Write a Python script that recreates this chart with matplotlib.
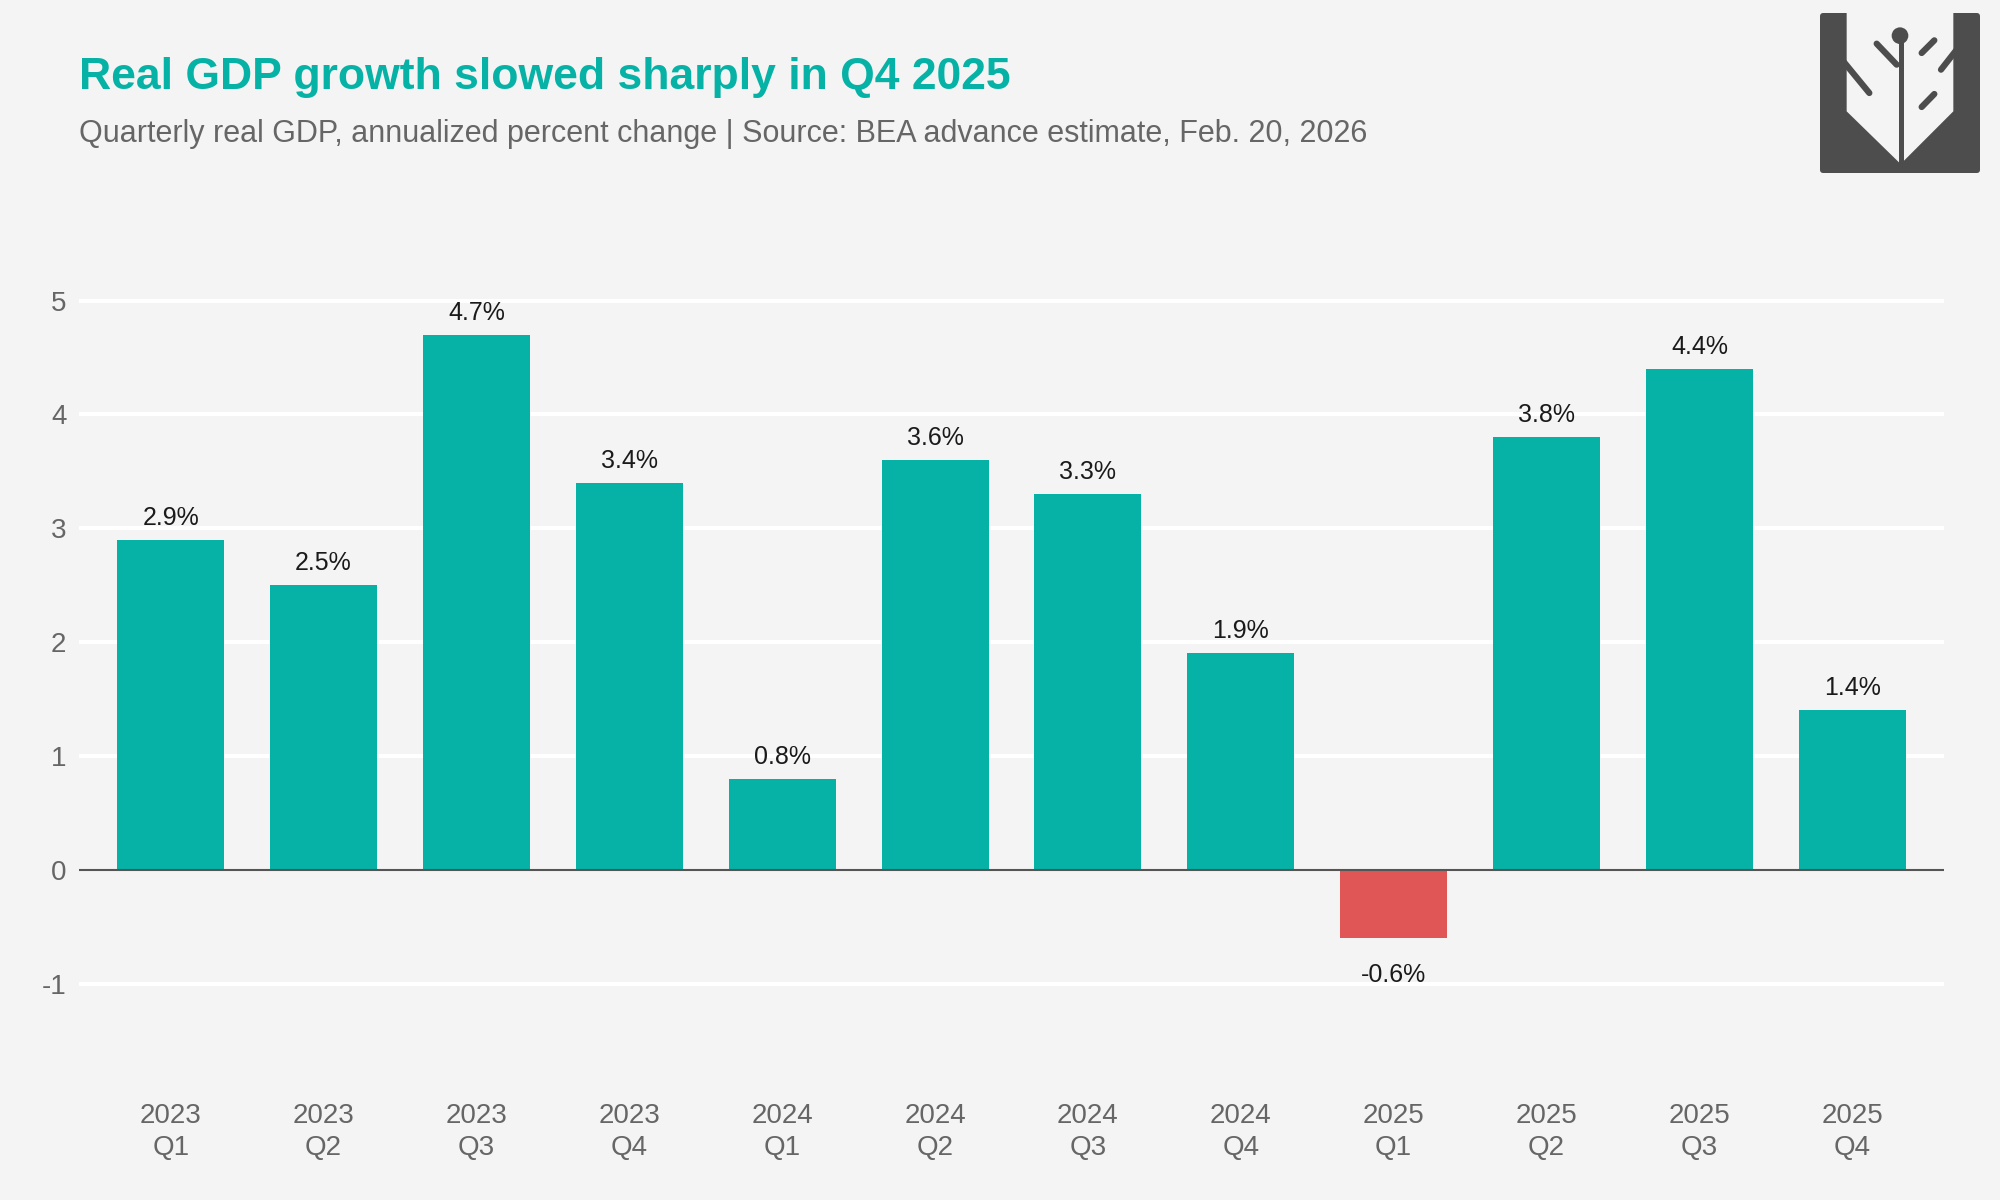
import numpy as np
import matplotlib.pyplot as plt
from matplotlib.patches import FancyBboxPatch, Polygon, Circle

quarters = ['2023\nQ1', '2023\nQ2', '2023\nQ3', '2023\nQ4',
            '2024\nQ1', '2024\nQ2', '2024\nQ3', '2024\nQ4',
            '2025\nQ1', '2025\nQ2', '2025\nQ3', '2025\nQ4']
growth = [2.9, 2.5, 4.7, 3.4, 0.8, 3.6, 3.3, 1.9, -0.6, 3.8, 4.4, 1.4]

bg = '#F4F4F4'
teal = '#05B2A5'
red = '#E05556'
gray_txt = '#666666'
logo_c = '#4D4D4D'

plt.rcParams['font.family'] = ['Liberation Sans', 'DejaVu Sans']

fig = plt.figure(figsize=(20, 12), dpi=100, facecolor=bg)
ax = fig.add_axes([0.0395, 0.095, 0.9325, 0.6925], facecolor=bg)

x = np.arange(len(growth))
colors = [teal if v >= 0 else red for v in growth]
ax.bar(x, growth, width=0.7, color=colors, zorder=3)

# white gridlines and dark zero line
for yv in [-1, 1, 2, 3, 4, 5]:
    ax.axhline(yv, color='white', lw=3, zorder=1)
ax.axhline(0, color='#555555', lw=1.5, zorder=4)

for xi, v in zip(x, growth):
    if v >= 0:
        ax.annotate(f'{v:.1f}%', (xi, v), xytext=(0, 10), textcoords='offset pixels',
                    ha='center', va='bottom', fontsize=18, color='#1a1a1a')
    else:
        ax.annotate(f'{v:.1f}%', (xi, v), xytext=(0, -25), textcoords='offset pixels',
                    ha='center', va='top', fontsize=18, color='#1a1a1a')

ax.set_xlim(-0.6, 11.6)
ax.set_ylim(-1.9, 5.4)
ax.set_yticks([-1, 0, 1, 2, 3, 4, 5])
ax.set_yticklabels(['-1', '0', '1', '2', '3', '4', '5'])
ax.set_xticks(x)
ax.set_xticklabels(quarters)
ax.tick_params(axis='both', length=0, labelsize=20, labelcolor=gray_txt)
ax.tick_params(axis='x', pad=12)
ax.tick_params(axis='y', pad=9)
plt.setp(ax.get_xticklabels(), linespacing=1.3)
for s in ax.spines.values():
    s.set_visible(False)

fig.text(0.0395, 1 - 78 / 1200, 'Real GDP growth slowed sharply in Q4 2025',
         fontsize=32, fontweight='bold', color=teal, va='center', ha='left')
fig.text(0.0395, 1 - 134 / 1200,
         'Quarterly real GDP, annualized percent change | Source: BEA advance estimate, Feb. 20, 2026',
         fontsize=22, color=gray_txt, va='center', ha='left')

# logo
lx = fig.add_axes([1820 / 2000, 1 - 173 / 1200, 160 / 2000, 160 / 1200])
lx.set_xlim(120, 600)
lx.set_ylim(520, 40)
lx.axis('off')
lx.add_patch(FancyBboxPatch((120, 40), 480, 480, boxstyle='round,pad=0,rounding_size=10',
                            fc=logo_c, ec='none'))
lx.add_patch(Polygon([(200, 20), (520, 20), (520, 335), (362, 493), (200, 335)],
                     closed=True, fc=bg, ec='none'))
lx.plot([362, 362], [110, 500], color=logo_c, lw=3.6, solid_capstyle='butt')
lx.add_patch(Circle((360, 108), 25, fc=logo_c, ec='none'))
segs = [((290, 132), (350, 195)), ((190, 185), (268, 280)), ((425, 160), (463, 122)),
        ((530, 150), (483, 210)), ((425, 322), (463, 283))]
for (x0, y0), (x1, y1) in segs:
    lx.plot([x0, x1], [y0, y1], color=logo_c, lw=4.5, solid_capstyle='round')

fig.savefig('out.png', dpi=100, facecolor=bg)
